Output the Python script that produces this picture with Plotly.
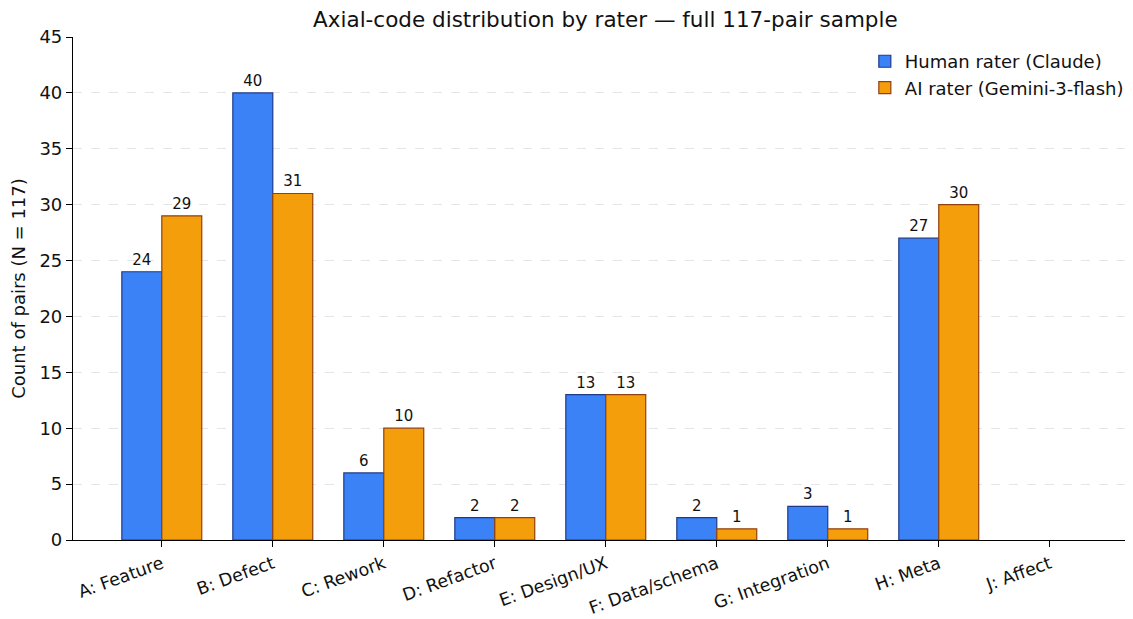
import plotly.graph_objects as go

categories = ["A: Feature", "B: Defect", "C: Rework", "D: Refactor", "E: Design/UX",
              "F: Data/schema", "G: Integration", "H: Meta", "J: Affect"]
human = [24, 40, 6, 2, 13, 2, 3, 27, 0]
ai = [29, 31, 10, 2, 13, 1, 1, 30, 0]
y_ticks = [0, 5, 10, 15, 20, 25, 30, 35, 40, 45]

font = "DejaVu Sans"
fig = go.Figure()
fig.add_trace(go.Bar(
    x=categories, y=human, name="Human rater (Claude)",
    marker=dict(color="#3B82F6", line=dict(color="#1E3A8A", width=[1.2 if v else 0 for v in human])),
    text=[str(v) if v else "" for v in human], textposition="outside",
    textfont=dict(size=15, color="#111", family=font), cliponaxis=False,
))
fig.add_trace(go.Bar(
    x=categories, y=ai, name="AI rater (Gemini-3-flash)",
    marker=dict(color="#F59E0B", line=dict(color="#92400E", width=[1.2 if v else 0 for v in ai])),
    text=[str(v) if v else "" for v in ai], textposition="outside",
    textfont=dict(size=15, color="#111", family=font), cliponaxis=False,
))
fig.update_layout(
    width=1125, height=611,
    margin=dict(l=65, r=0, t=29, b=79, autoexpand=False),
    paper_bgcolor="white", plot_bgcolor="white",
    barmode="group", bargap=0.28, bargroupgap=0,
    font=dict(family=font, size=18, color="#111"),
    title=dict(text="Axial-code distribution by rater — full 117-pair sample",
               x=0.531, xanchor="center", y=0.982, yanchor="middle",
               font=dict(size=21.5, family=font, color="#111")),
    legend=dict(x=0.747, y=0.988, xanchor="left", yanchor="top",
                bgcolor="rgba(255,255,255,0.8)", font=dict(size=18, family=font),
                tracegroupgap=4),
)
fig.update_xaxes(
    type="category", range=[-0.8, 8.75], tickangle=-20, automargin=False,
    showline=True, linecolor="black", linewidth=1.2,
    ticks="outside", ticklen=6, tickcolor="black", ticklabelstandoff=0,
    tickfont=dict(size=17.5, family=font), showgrid=False,
)
fig.update_yaxes(
    range=[0, 45], tickvals=y_ticks, automargin=False,
    title=dict(text="Count of pairs (N = 117)", font=dict(size=18, family=font)),
    showline=True, linecolor="black", linewidth=1.2,
    ticks="outside", ticklen=6, tickcolor="black",
    tickfont=dict(size=18, family=font),
    showgrid=True, gridcolor="#e5e5e5", griddash="dash", gridwidth=1, zeroline=False,
)
fig.write_html("out.html")
